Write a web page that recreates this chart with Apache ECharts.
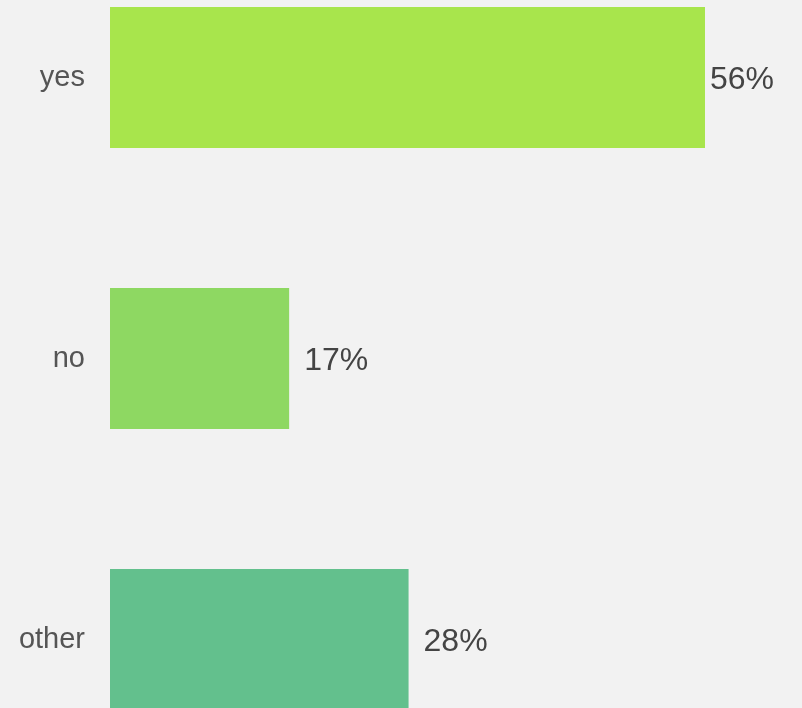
<!DOCTYPE html>
<html>
<head>
<meta charset="utf-8">
<script src="https://cdn.jsdelivr.net/npm/echarts@6/dist/echarts.min.js"></script>
<style>
html,body{margin:0;padding:0;background:#f2f2f2;}
#c{width:802px;height:708px;}
</style>
</head>
<body>
<div id="c"></div>
<script>
const categories = ['yes', 'no', 'other'];
const values = [55.8, 16.8, 28.0];
const colors = ['#a8e54c', '#8ed862', '#63c08d'];
const labelGaps = [5, 15, 15];

const chart = echarts.init(document.getElementById('c'), null, {renderer: 'canvas'});
chart.setOption({
  backgroundColor: '#f2f2f2',
  animation: false,
  grid: {left: 110, top: -63, height: 843, width: 1066.3, containLabel: false, outerBoundsMode: 'none'},
  xAxis: {
    type: 'value', min: 0, max: 100, show: false
  },
  yAxis: {
    type: 'category', data: categories, inverse: true,
    axisLine: {show: false}, axisTick: {show: false}, splitLine: {show: false},
    axisLabel: {color: '#555', fontSize: 29, fontFamily: 'Liberation Sans, Arial, sans-serif', margin: 25, padding: [2, 0, 0, 0]}
  },
  series: [{
    type: 'bar',
    barWidth: 141,
    data: values.map((v, i) => ({
      value: v,
      itemStyle: {color: colors[i]},
      label: {distance: labelGaps[i]}
    })),
    label: {
      show: true, position: 'right', offset: [0, 3],
      color: '#444', fontSize: 32, fontFamily: 'Liberation Sans, Arial, sans-serif',
      formatter: p => Math.round(p.value) + '%'
    }
  }]
});
</script>
</body>
</html>
